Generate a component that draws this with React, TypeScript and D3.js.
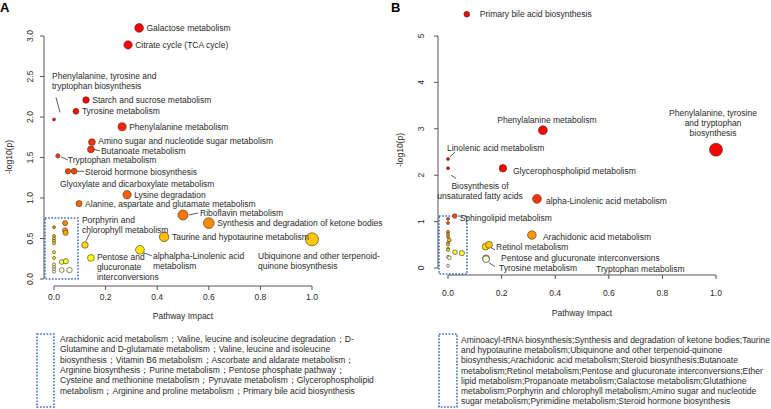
import * as d3 from 'd3'
import React from 'react'

// [pathway, impact, -log10(p)]
const pathwaysA: [string, number, number][] = [
  ['Galactose metabolism', 0.33, 3.1],
  ['Citrate cycle (TCA cycle)', 0.287, 2.89],
  ['Starch and sucrose metabolism', 0.124, 2.21],
  ['Tyrosine metabolism', 0.085, 2.07],
  ['Phenylalanine, tyrosine and tryptophan biosynthesis', 0.0, 1.97],
  ['Phenylalanine metabolism', 0.264, 1.88],
  ['Amino sugar and nucleotide sugar metabolism', 0.147, 1.69],
  ['Butanoate metabolism', 0.143, 1.6],
  ['Tryptophan metabolism', 0.015, 1.52],
  ['Glyoxylate and dicarboxylate metabolism', 0.054, 1.33],
  ['Steroid hormone biosynthesis', 0.078, 1.33],
  ['Lysine degradation', 0.283, 1.04],
  ['Alanine, aspartate and glutamate metabolism', 0.097, 0.93],
  ['Riboflavin metabolism', 0.5, 0.79],
  ['Synthesis and degradation of ketone bodies', 0.6, 0.69],
  ['Taurine and hypotaurine metabolism', 0.427, 0.52],
  ['Ubiquinone and other terpenoid-quinone biosynthesis', 1.0, 0.49],
  ['Porphyrin and chlorophyll metabolism', 0.12, 0.42],
  ['alphalpha-Linolenic acid metabolism', 0.333, 0.36],
  ['Pentose and glucuronate interconversions', 0.143, 0.26]
]

// unlabeled points inside the dotted box (A)
const clusterA: [number, number][] = [
  [0, 0.64], [0.043, 0.69], [0.043, 0.6], [0.045, 0.57], [0, 0.53], [0, 0.5],
  [0, 0.47], [0, 0.44], [0, 0.33], [0, 0.26], [0, 0.18], [0, 0.15], [0, 0.12],
  [0, 0.09], [0.03, 0.21], [0.046, 0.22], [0.03, 0.11], [0.06, 0.11]
]

const pathwaysB: [string, number, number][] = [
  ['Primary bile acid biosynthesis', 0.07, 5.47],
  ['Phenylalanine metabolism', 0.354, 2.97],
  ['Phenylalanine, tyrosine and tryptophan biosynthesis', 1.0, 2.55],
  ['Linolenic acid metabolism', 0.0, 2.35],
  ['Biosynthesis of unsaturated fatty acids', 0.0, 2.15],
  ['Glycerophospholipid metabolism', 0.205, 2.15],
  ['alpha-Linolenic acid metabolism', 0.332, 1.49],
  ['Sphingolipid metabolism', 0.025, 1.12],
  ['Arachidonic acid metabolism', 0.313, 0.71],
  ['Retinol metabolism', 0.153, 0.5],
  ['Pentose and glucuronate interconversions', 0.142, 0.21],
  ['Tyrosine metabolism', 0.142, 0.2],
  ['Tryptophan metabolism', 0.142, 0.19]
]

const clusterB: [number, number][] = [
  [0, 1.06], [0, 0.97], [0, 0.78], [0, 0.73], [0, 0.67], [0.005, 0.6],
  [0, 0.54], [0, 0.51], [0, 0.42], [0, 0.39], [0, 0.24], [0.005, 0.22],
  [0, 0.05], [0.026, 0.34], [0.052, 0.32], [0.14, 0.46]
]

const noteA = [
  'Arachidonic acid metabolism；Valine, leucine and isoleucine degradation；D-',
  'Glutamine and D-glutamate metabolism；Valine, leucine and isoleucine',
  'biosynthesis；Vitamin B6 metabolism；Ascorbate and aldarate metabolism；',
  'Arginine biosynthesis；Purine metabolism；Pentose phosphate pathway；',
  'Cysteine and methionine metabolism；Pyruvate metabolism；Glycerophospholipid',
  'metabolism；Arginine and proline metabolism；Primary bile acid biosynthesis'
]

const noteB = [
  'Aminoacyl-tRNA biosynthesis;Synthesis and degradation of ketone bodies;Taurine',
  'and hypotaurine metabolism;Ubiquinone and other terpenoid-quinone',
  'biosynthesis;Arachidonic acid metabolism;Steroid biosynthesis;Butanoate',
  'metabolism;Retinol metabolism;Pentose and glucuronate interconversions;Ether',
  'lipid metabolism;Propanoate metabolism;Galactose metabolism;Glutathione',
  'metabolism;Porphyrin and chlorophyll metabolism;Amino sugar and nucleotide',
  'sugar metabolism;Pyrimidine metabolism;Steroid hormone biosynthesis'
]

type Lab = { dx?: number; dy?: number; anchor?: string; lines?: string[]; leader?: number[] }

const labelsA: Record<string, Lab> = {
  'Phenylalanine, tyrosine and tryptophan biosynthesis': {
    dx: -2, dy: -43, lines: ['Phenylalanine, tyrosine and', 'tryptophan biosynthesis'], leader: [6, -7, 2, -22]
  },
  'Amino sugar and nucleotide sugar metabolism': { dy: -1.5 },
  'Butanoate metabolism': { dx: 10, dy: 1.5, leader: [3, 0, 9, 1.5] },
  'Tryptophan metabolism': { dx: 10, dy: 4.5, leader: [3, 1, 10, 4] },
  'Steroid hormone biosynthesis': { dx: 11, dy: 0.5, leader: [3, 0, 10, 0] },
  'Glyoxylate and dicarboxylate metabolism': { dx: -8, dy: 13 },
  'Riboflavin metabolism': { dx: 17, dy: -2, leader: [6, 0, 15, -2] },
  'Porphyrin and chlorophyll metabolism': {
    dx: -3, dy: -25, lines: ['Porphyrin and', 'chlorophyll metabolism'], leader: [1, -4, 5, -12]
  },
  'alphalpha-Linolenic acid metabolism': {
    dx: 13, dy: 6, lines: ['alphalpha-Linolenic acid', 'metabolism'], leader: [4, 3, 12, 6]
  },
  'Pentose and glucuronate interconversions': {
    dx: 6, dy: -1, lines: ['Pentose and', 'glucuronate', 'interconversions']
  },
  'Ubiquinone and other terpenoid-quinone biosynthesis': {
    dx: -54, dy: 17, lines: ['Ubiquinone and other terpenoid-', 'quinone biosynthesis']
  }
}

const labelsB: Record<string, Lab> = {
  'Primary bile acid biosynthesis': { dx: 13 },
  'Phenylalanine metabolism': { dx: 4, dy: -10, anchor: 'middle' },
  'Phenylalanine, tyrosine and tryptophan biosynthesis': {
    dx: -3, dy: -37, anchor: 'middle', lines: ['Phenylalanine, tyrosine', 'and tryptophan', 'biosynthesis']
  },
  'Linolenic acid metabolism': { dx: -1, dy: -11, leader: [2, -2, 7, -7] },
  'Biosynthesis of unsaturated fatty acids': {
    dx: 32, dy: 18, anchor: 'middle', lines: ['Biosynthesis of', 'unsaturated fatty acids'], leader: [3, 7, 8, 10]
  },
  'Glycerophospholipid metabolism': { dx: 10, dy: 3 },
  'alpha-Linolenic acid metabolism': { dx: 9, dy: 2 },
  'Sphingolipid metabolism': { dx: 5, dy: 2 },
  'Arachidonic acid metabolism': { dx: 11, dy: 2 },
  'Retinol metabolism': { dx: 7, dy: 2, leader: [2, 3, 6, 5] },
  'Pentose and glucuronate interconversions': { dx: 15, dy: 0 },
  'Tyrosine metabolism': { dx: 13, dy: 9, leader: [3, 4, 9, 8] },
  'Tryptophan metabolism': { dx: 110, dy: 10 }
}

const FONT = 'Liberation Sans, Arial, sans-serif'
const TXT = '#2a2a2a'
const BLUE = '#3a6cc4'

const radius = (impact: number) => 1.5 + 5 * Math.sqrt(impact)

const colorA = d3
  .scaleLinear<string>()
  .domain([0.08, 0.15, 0.25, 0.45, 0.6, 0.8, 1.2, 1.8, 2.2])
  .range(['#ffffee', '#ffffb0', '#ffff00', '#ffd500', '#ff9f00', '#ff7400', '#ff4d00', '#ff2a00', '#ff0000'])
  .clamp(true)

const colorB = d3
  .scaleLinear<string>()
  .domain([0.05, 0.25, 0.35, 0.5, 0.7, 1.0, 1.5, 2.2])
  .range(['#ffffff', '#ffffc0', '#ffff00', '#ffcc00', '#ff9900', '#ff5500', '#ff3300', '#ff0000'])
  .clamp(true)

type PanelProps = {
  letter: string
  letterX: number
  x: d3.ScaleLinear<number, number>
  y: d3.ScaleLinear<number, number>
  yTicks: number[]
  yFmt: (v: number) => string
  axisX: number
  axisY: number
  yLabGap: number
  xLabGap: number
  yTitleX: number
  yTitleY: number
  xTitleY: number
  pathways: [string, number, number][]
  cluster: [number, number][]
  labels: Record<string, Lab>
  color: d3.ScaleLinear<string, string>
  box: [number, number, number, number]
  note: string[]
  noteBox: [number, number, number, number]
  noteX: number
  noteY: number
  noteStep: number
}

function Panel(p: PanelProps) {
  const { x, y } = p
  const xTicks = d3.range(0, 1.0001, 0.2)
  const [x0, x1] = x.range()
  const yTop = y(p.yTicks[p.yTicks.length - 1])
  const points = [
    ...p.cluster.map(([i, l]) => ({ name: '', impact: i, logp: l })),
    ...p.pathways.map(([n, i, l]) => ({ name: n, impact: i, logp: l }))
  ]
  return (
    <g fontFamily={FONT} fill={TXT}>
      <text x={p.letterX} y={12} fontSize={13} fontWeight="bold" fill="#000">
        {p.letter}
      </text>

      {/* y axis */}
      <line x1={p.axisX} x2={p.axisX} y1={yTop} y2={y(0)} stroke="#555" />
      {p.yTicks.map(t => (
        <g key={'y' + t}>
          <line x1={p.axisX - 4} x2={p.axisX} y1={y(t)} y2={y(t)} stroke="#555" />
          <text
            transform={`translate(${p.axisX - p.yLabGap},${y(t)}) rotate(-90)`}
            textAnchor="middle"
            fontSize={8.5}
          >
            {p.yFmt(t)}
          </text>
        </g>
      ))}
      <text
        transform={`translate(${p.yTitleX},${p.yTitleY}) rotate(-90)`}
        textAnchor="middle"
        dominantBaseline="central"
        fontSize={8.5}
      >
        -log10(p)
      </text>

      {/* x axis */}
      <line x1={x0} x2={x1} y1={p.axisY} y2={p.axisY} stroke="#555" />
      {xTicks.map(t => (
        <g key={'x' + t}>
          <line x1={x(t)} x2={x(t)} y1={p.axisY} y2={p.axisY + 4} stroke="#555" />
          <text
            x={x(t)}
            y={p.axisY + p.xLabGap}
            textAnchor="middle"
            dominantBaseline="central"
            fontSize={8.5}
          >
            {d3.format('.1f')(t)}
          </text>
        </g>
      ))}
      <text
        x={(x0 + x1) / 2}
        y={p.xTitleY}
        textAnchor="middle"
        dominantBaseline="central"
        fontSize={8.5}
      >
        Pathway Impact
      </text>

      {/* dotted box round the crowded corner */}
      <rect
        x={p.box[0]}
        y={p.box[1]}
        width={p.box[2] - p.box[0]}
        height={p.box[3] - p.box[1]}
        fill="none"
        stroke={BLUE}
        strokeWidth={1.6}
        strokeDasharray="1.6,1.6"
      />

      {points.map((d, i) => (
        <circle
          key={'c' + i}
          cx={x(d.impact)}
          cy={y(d.logp)}
          r={radius(d.impact)}
          fill={p.color(d.logp)}
          stroke="#333"
          strokeWidth={0.6}
        />
      ))}

      {p.pathways.map(([name, impact, logp]) => {
        const px = x(impact)
        const py = y(logp)
        const lab = p.labels[name] || {}
        const dx = lab.dx ?? radius(impact) + 3
        const dy = lab.dy ?? 0
        const lines = lab.lines || [name]
        return (
          <g key={'l' + name}>
            {lab.leader && (
              <line
                x1={px + lab.leader[0]}
                y1={py + lab.leader[1]}
                x2={px + lab.leader[2]}
                y2={py + lab.leader[3]}
                stroke="#333"
                strokeWidth={0.8}
              />
            )}
            {lines.map((ln, k) => (
              <text
                key={k}
                x={px + dx}
                y={py + dy + k * 10}
                textAnchor={lab.anchor || 'start'}
                dominantBaseline="central"
                fontSize={8.5}
              >
                {ln}
              </text>
            ))}
          </g>
        )
      })}

      {/* footnote */}
      <rect
        x={p.noteBox[0]}
        y={p.noteBox[1]}
        width={p.noteBox[2] - p.noteBox[0]}
        height={p.noteBox[3] - p.noteBox[1]}
        fill="none"
        stroke={BLUE}
        strokeWidth={1.6}
        strokeDasharray="1.6,1.6"
      />
      {p.note.map((ln, k) => (
        <text
          key={'n' + k}
          x={p.noteX}
          y={p.noteY + k * p.noteStep}
          dominantBaseline="central"
          fontSize={8.5}
        >
          {ln}
        </text>
      ))}
    </g>
  )
}

export default function App() {
  const xA = d3.scaleLinear().domain([0, 1]).range([54, 312])
  const yA = d3.scaleLinear().domain([0, 3]).range([279, 36])
  const xB = d3.scaleLinear().domain([0, 1]).range([448, 716])
  const yB = d3.scaleLinear().domain([0, 5]).range([268, 36])

  return (
    <svg
      width={771}
      height={409}
      style={{ position: 'absolute', left: 0, top: 0, background: '#fff' }}
    >
      <Panel
        letter="A"
        letterX={0}
        x={xA}
        y={yA}
        yTicks={d3.range(0, 3.001, 0.5)}
        yFmt={d3.format('.1f')}
        axisX={44}
        axisY={286}
        yLabGap={11}
        xLabGap={11}
        yTitleX={9}
        yTitleY={157}
        xTitleY={316}
        pathways={pathwaysA}
        cluster={clusterA}
        labels={labelsA}
        color={colorA}
        box={[45, 218, 78, 279]}
        note={noteA}
        noteBox={[37, 334, 54, 407]}
        noteX={60}
        noteY={339}
        noteStep={10.3}
      />
      <Panel
        letter="B"
        letterX={391}
        x={xB}
        y={yB}
        yTicks={d3.range(0, 6)}
        yFmt={d3.format('d')}
        axisX={438}
        axisY={275}
        yLabGap={14}
        xLabGap={18}
        yTitleX={400}
        yTitleY={150}
        xTitleY={313}
        pathways={pathwaysB}
        cluster={clusterB}
        labels={labelsB}
        color={colorB}
        box={[439, 216, 467, 274]}
        note={noteB}
        noteBox={[439, 334, 457, 407]}
        noteX={461}
        noteY={340}
        noteStep={10.2}
      />
    </svg>
  )
}
